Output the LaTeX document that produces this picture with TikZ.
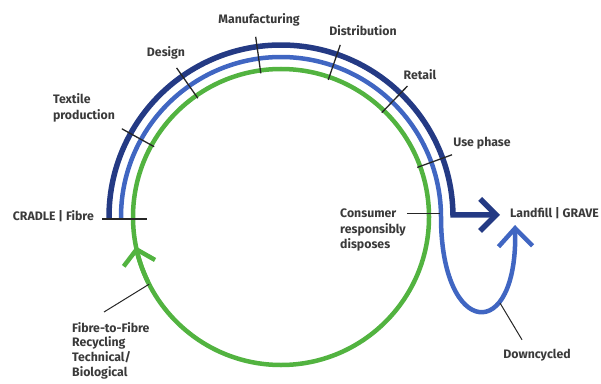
\documentclass[tikz,border=0pt]{standalone}
\usepackage{fontspec}
\setmainfont{Fira Sans}
\usepackage{tikz}
\usetikzlibrary{arrows.meta,positioning,calc}
\usepackage{xcolor}
\definecolor{navy}{HTML}{243A84}
\definecolor{midblue}{HTML}{4066C2}
\definecolor{loopgreen}{HTML}{52B340}
\definecolor{labelgrey}{HTML}{3A3A3A}

\begin{document}
\begin{tikzpicture}[
    x=1pt, y=1pt,
    font=\fontsize{12.3}{15.5}\selectfont\bfseries,
    every node/.style={text=labelgrey, align=left, inner sep=1pt},
    tick/.style={draw=black!85, line width=1.3pt},
    leader/.style={draw=black!85, line width=1pt}
  ]
    \useasboundingbox (0,0) rectangle (601,383);
    \coordinate (c) at (281,166);

    % the three loops
    \draw[loopgreen, line width=4.5pt] (c) circle[radius=148];
    \draw[loopgreen, line width=4.5pt, -{Straight Barb[length=14pt,width=32pt]}]
      ($(c)+(206:148)$) arc[start angle=206, end angle=191.5, radius=148];
    \coordinate (navyend) at (500,168.1);
    \coordinate (bluetip) at (515,158);
    \draw[navy, line width=5.5pt, line join=miter, -{Straight Barb[length=16pt,width=32pt]}]
      ($(c)+(180.7:172)$) arc[start angle=180.7, end angle=0.7, radius=172] -- (navyend);
    \draw[midblue, line width=4.5pt, -{Straight Barb[length=18pt,width=34pt]}]
      ($(c)+(180.7:160)$) arc[start angle=180.7, end angle=0, radius=160]
      .. controls (441,45) and (518,38) .. (bluetip);

    % stage ticks
    \foreach \a in {151,125,98,71,46,20}
      \draw[tick] ($(c)+(\a:145)$) -- ($(c)+(\a:182)$);
    \draw[tick] (102,164) -- (147,164);

    \node (manu) at (259,363) {Manufacturing};
    \node (design) at (166,330) {Design};
    \node (textile) at (84,275) {Textile\\production};
    \node (distr) at (363,352) {Distribution};
    \node (retail) at (420,308) {Retail};
    \node (use) at (482,240) {Use phase};
    \node[anchor=west] (cons) at (339,153) {Consumer\\responsibly\\disposes};
    \node[anchor=west] (landfill) at (509,170) {Landfill | GRAVE};
    \node[anchor=east] (cradle) at (95,167) {CRADLE | Fibre};
    \node[anchor=north west, font=\fontsize{12.3}{14.8}\selectfont\bfseries] (recyc) at (71,62)
      {Fibre-to-Fibre\\Recycling\\Technical/\\Biological};
    \node (down) at (537,28) {Downcycled};

    \coordinate (consend) at (440,170);
    \coordinate (recycend) at ($(c)+(207:148)$);
    \coordinate (downstart) at (500,80);
    \draw[leader] (cons.east |- consend) -- (consend);
    \draw[leader] ([xshift=33pt,yshift=9pt]recyc.north west) -- (recycend);
    \draw[leader] ([xshift=-15pt,yshift=8pt]down.north) -- (downstart);
  \end{tikzpicture}
\end{document}
